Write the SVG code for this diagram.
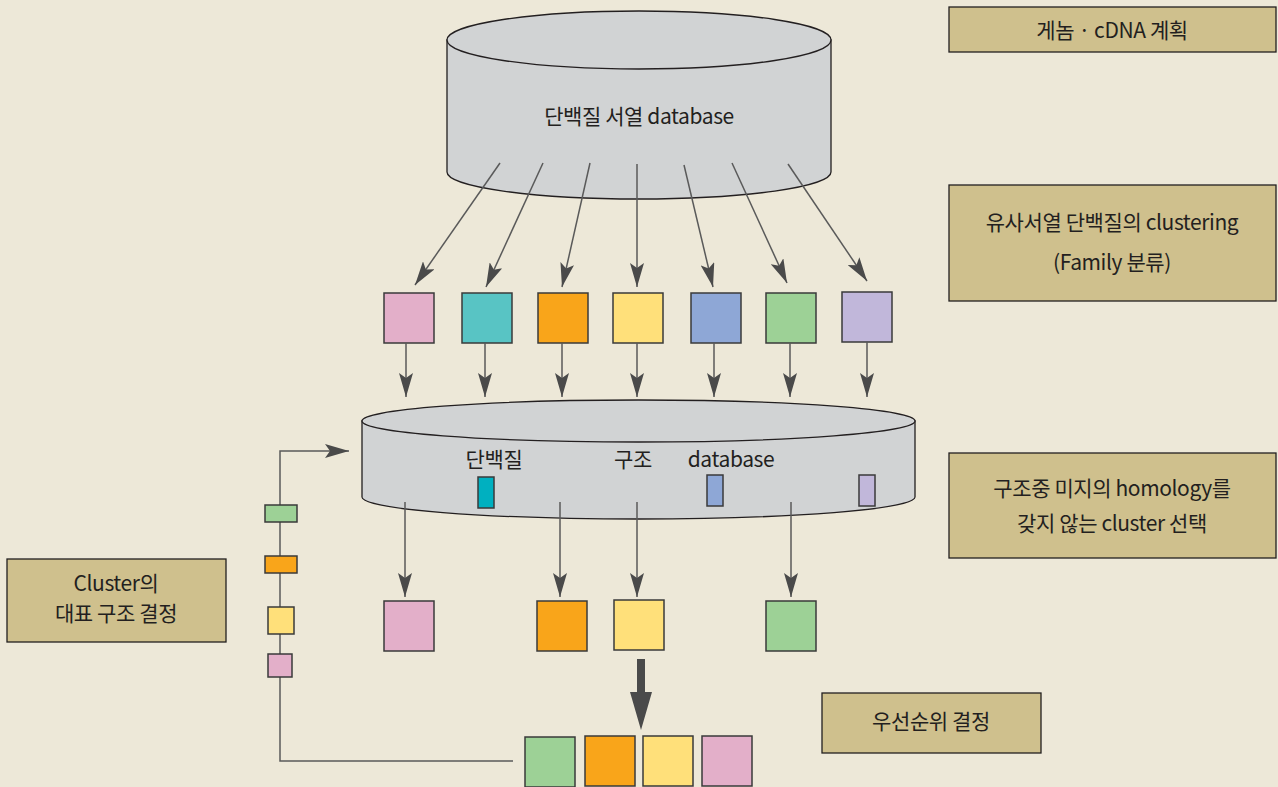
<svg xmlns="http://www.w3.org/2000/svg" width="1278" height="787" viewBox="0 0 1278 787">
<style>
.t{font-family:"Noto Sans CJK KR","Liberation Sans",sans-serif;font-size:21px;fill:#231f20;text-anchor:middle;letter-spacing:-0.4px}
.lbl{fill:#cfc08d;stroke:#231f20;stroke-width:1.3}
.cyl{fill:#d1d3d4;stroke:#231f20;stroke-width:1.3}
.sq{stroke:#3a3a3a;stroke-width:1.5}
.ln{stroke:#5a5a5a;stroke-width:1.5;fill:none}
.pk{fill:#e3afc9}.tl{fill:#58c4c4}.or{fill:#f9a51a}.yl{fill:#ffe07a}.bl{fill:#8ea7d6}.gr{fill:#9dd196}.pu{fill:#c1b7da}.tl2{fill:#00b0c0}
</style>
<defs>
<marker id="arr" markerUnits="userSpaceOnUse" markerWidth="24" markerHeight="14" viewBox="0 0 24 14" refX="24" refY="7" orient="auto">
<path d="M0,0 L24,7 L0,14 L5,7 Z" fill="#4a4a4a"/>
</marker>
</defs>
<rect width="1278" height="787" fill="#ede8d8"/>

<g id="db-seq">
<path class="cyl" d="M447,40 L447,172 A192,27 0 0 0 831,172 L831,40 Z"/>
<ellipse class="cyl" cx="639" cy="40" rx="192" ry="29"/>
<text class="t" x="639" y="124">단백질 서열 database</text>
</g>

<g id="db-struct">
<path class="cyl" d="M362,421 L362,497 A276.5,22 0 0 0 915,497 L915,421 Z"/>
<ellipse class="cyl" cx="638.5" cy="421" rx="276.5" ry="21"/>
<text class="t" x="494" y="467">단백질</text>
<text class="t" x="633" y="467">구조</text>
<text class="t" x="731" y="467">database</text>
<rect class="sq tl2" x="478" y="477" width="16" height="31"/>
<rect class="sq bl" x="707" y="475" width="16" height="31"/>
<rect class="sq pu" x="859" y="475" width="16" height="31"/>
</g>

<g id="row1">
<rect class="sq pk" x="384" y="293" width="50" height="50"/>
<rect class="sq tl" x="462" y="293" width="50" height="50"/>
<rect class="sq or" x="538" y="293" width="50" height="50"/>
<rect class="sq yl" x="613" y="293" width="50" height="50"/>
<rect class="sq bl" x="691" y="293" width="50" height="50"/>
<rect class="sq gr" x="766" y="293" width="50" height="50"/>
<rect class="sq pu" x="842" y="292" width="50" height="50"/>
</g>

<g id="row2">
<rect class="sq pk" x="384" y="601" width="50" height="50"/>
<rect class="sq or" x="537" y="601" width="50" height="50"/>
<rect class="sq yl" x="614" y="600" width="50" height="50"/>
<rect class="sq gr" x="766" y="601" width="50" height="50"/>
</g>

<g id="row3">
<rect class="sq gr" x="525" y="737" width="50" height="50"/>
<rect class="sq or" x="585" y="736" width="50" height="50"/>
<rect class="sq yl" x="643" y="736" width="50" height="50"/>
<rect class="sq pk" x="702" y="736" width="50" height="50"/>
</g>

<g id="connectors">
<line class="ln" x1="500" y1="163" x2="415" y2="285" marker-end="url(#arr)"/>
<line class="ln" x1="543" y1="163" x2="486" y2="287" marker-end="url(#arr)"/>
<line class="ln" x1="590" y1="163" x2="562" y2="287" marker-end="url(#arr)"/>
<line class="ln" x1="637" y1="164" x2="637" y2="287" marker-end="url(#arr)"/>
<line class="ln" x1="684" y1="165" x2="713" y2="287" marker-end="url(#arr)"/>
<line class="ln" x1="732" y1="163" x2="787" y2="283" marker-end="url(#arr)"/>
<line class="ln" x1="788" y1="164" x2="867" y2="281" marker-end="url(#arr)"/>

<line class="ln" x1="406" y1="343" x2="406" y2="397" marker-end="url(#arr)"/>
<line class="ln" x1="485" y1="343" x2="485" y2="397" marker-end="url(#arr)"/>
<line class="ln" x1="562" y1="343" x2="562" y2="397" marker-end="url(#arr)"/>
<line class="ln" x1="637" y1="343" x2="637" y2="397" marker-end="url(#arr)"/>
<line class="ln" x1="714" y1="343" x2="714" y2="397" marker-end="url(#arr)"/>
<line class="ln" x1="790" y1="343" x2="790" y2="397" marker-end="url(#arr)"/>
<line class="ln" x1="867" y1="342" x2="867" y2="397" marker-end="url(#arr)"/>

<line class="ln" x1="405" y1="502" x2="405" y2="597" marker-end="url(#arr)"/>
<line class="ln" x1="560" y1="502" x2="560" y2="597" marker-end="url(#arr)"/>
<line class="ln" x1="637" y1="502" x2="637" y2="597" marker-end="url(#arr)"/>
<line class="ln" x1="791" y1="502" x2="791" y2="597" marker-end="url(#arr)"/>

<path d="M637,659 L645,659 L645,692 L652,692 L641,730 L630,692 L637,692 Z" fill="#4a4a4a"/>

<path class="ln" d="M513,761 L280,761 L280,451 L349,451" marker-end="url(#arr)"/>
<rect class="sq gr" x="265" y="505" width="32" height="17"/>
<rect class="sq or" x="265" y="556" width="32" height="17"/>
<rect class="sq yl" x="268" y="607" width="26" height="27"/>
<rect class="sq pk" x="268" y="654" width="24" height="23"/>
</g>

<g id="label-genome">
<rect class="lbl" x="949" y="7" width="327" height="45"/>
<text class="t" x="1112" y="38">게놈 · cDNA 계획</text>
</g>
<g id="label-cluster">
<rect class="lbl" x="949" y="185" width="327" height="116"/>
<text class="t" x="1112" y="230">유사서열 단백질의 clustering</text>
<text class="t" x="1112" y="270">(Family 분류)</text>
</g>
<g id="label-select">
<rect class="lbl" x="949" y="453" width="327" height="105"/>
<text class="t" x="1112" y="496">구조중 미지의 homology를</text>
<text class="t" x="1112" y="531">갖지 않는 cluster 선택</text>
</g>
<g id="label-rep">
<rect class="lbl" x="7" y="559" width="219" height="83"/>
<text class="t" x="116" y="591">Cluster의</text>
<text class="t" x="116" y="621">대표 구조 결정</text>
</g>
<g id="label-priority">
<rect class="lbl" x="822" y="693" width="219" height="60"/>
<text class="t" x="931" y="729">우선순위 결정</text>
</g>
</svg>
